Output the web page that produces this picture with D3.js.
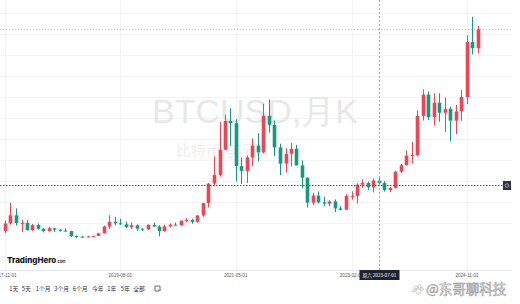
<!DOCTYPE html>
<html>
<head>
<meta charset="utf-8">
<script src="https://cdn.jsdelivr.net/npm/d3@7"></script>
<style>
html, body { margin: 0; padding: 0; background: #fff; }
svg { display: block; }
</style>
</head>
<body>
<script>
// monthly BTCUSD candles, 2017-11 .. 2025-01
const months = d3.timeMonth.range(new Date(2017, 10, 1), new Date(2025, 1, 1));

const opens = [6440, 10000, 13900, 10200, 10300, 6900, 9240, 7500, 6400, 7730, 7030, 6630, 6370, 4040,
  3740, 3460, 3850, 4100, 5320, 8570, 10820, 10080, 9600, 8300, 9150, 7550,
  7190, 9350, 8540, 6410, 8630, 9450, 9140, 11350, 11660, 10780, 13800, 19700,
  28990, 33110, 45140, 58790, 57750, 37300, 35040, 41460, 47100, 43820, 61300, 56950,
  46220, 38480, 43190, 45540, 37640, 31800, 19930, 23290, 20050, 19430, 20490, 17170,
  16540, 23140, 23150, 28480, 29270, 27220, 30480, 29230, 25940, 26970, 34650, 37720,
  42280, 42580, 61200, 71330, 60670, 67500, 62700, 64600, 58950, 63330, 70200, 96400,
  93400];
const highs = [11400, 19800, 17200, 11800, 11700, 9800, 9990, 7780, 8500, 7770, 7400, 7680, 6600, 4310,
  4100, 4200, 4140, 5600, 9000, 13880, 13200, 12300, 10950, 10540, 9510, 7750,
  9590, 10500, 9190, 9460, 10070, 10400, 11450, 12470, 12080, 14100, 19900, 29300,
  41950, 58350, 61800, 64850, 59600, 41300, 42400, 50500, 52920, 67000, 69000, 59100,
  47990, 45800, 48240, 47440, 40000, 31980, 24670, 25200, 22800, 21080, 21480, 18390,
  23950, 25250, 29200, 31000, 29820, 31430, 31800, 30200, 27500, 35200, 38400, 44700,
  48970, 63900, 73780, 72800, 71950, 71980, 70000, 65600, 66500, 73600, 99650, 108350,
  104000];
const lows = [5500, 9400, 9000, 6000, 6600, 6450, 7050, 5750, 6100, 5880, 6100, 6200, 3550, 3150,
  3350, 3400, 3700, 4060, 5300, 7450, 9100, 9350, 7710, 7300, 6550, 6430,
  6850, 8450, 3850, 6150, 8100, 8900, 8980, 10520, 9880, 10380, 13200, 17600,
  28130, 32300, 45000, 47000, 30000, 28800, 29300, 37330, 39600, 43280, 53250, 42000,
  32950, 34300, 37150, 37700, 26700, 17600, 18800, 19550, 18150, 18200, 15480, 16260,
  16500, 21400, 19550, 26940, 25810, 24800, 28860, 25170, 24900, 26560, 34100, 37650,
  38550, 41880, 59000, 59200, 56550, 58400, 53500, 49000, 52550, 58900, 66800, 90500,
  91000];
const closes = [10000, 13900, 10200, 10300, 6900, 9240, 7500, 6400, 7730, 7030, 6630, 6370, 4040, 3740,
  3460, 3850, 4100, 5320, 8570, 10820, 10080, 9600, 8300, 9150, 7550, 7190,
  9350, 8540, 6410, 8630, 9450, 9140, 11350, 11660, 10780, 13800, 19700, 28990,
  33110, 45140, 58790, 57750, 37300, 35040, 41460, 47100, 43820, 61300, 56950, 46220,
  38480, 43190, 45540, 37640, 31800, 19930, 23290, 20050, 19430, 20490, 17170, 16540,
  23140, 23150, 28480, 29270, 27220, 30480, 29230, 25940, 26970, 34650, 37720, 42280,
  42580, 61200, 71330, 60670, 67500, 62700, 64600, 58950, 63330, 70200, 96400, 93400,
  102400];

const xTickLabels = ['2017-11-01', '2019-08-01', '2021-05-01', '2023-02-01', '2024-11-01'];
const gridPrices = [10000, 20000, 30000, 40000, 50000, 60000, 70000, 80000, 90000, 100000, 110000];
const rangeButtons = ['1天', '5天', '1个月', '3个月', '6个月', '今年', '1年', '5年', '全部'];
const crosshairDate = '2023-07-01';
const crosshairPrice = 28300;

const W = 520, H = 304;
const plotRight = 512, plotBottom = 270;
const upColor = '#ec4656', downColor = '#16997f';

const parse = d3.timeParse('%Y-%m-%d');

const data = months.map((m, i) => ({
  date: m, open: opens[i], high: highs[i], low: lows[i], close: closes[i]
}));

const x = d3.scaleTime()
  .domain([months[0], months[months.length - 1]])
  .range([5, 478]);
const y = d3.scaleLinear().domain([0, 110000]).range([244.5, 13.4]);

const svg = d3.select('body').append('svg')
  .attr('width', W).attr('height', H)
  .style('font-family', '"Liberation Sans", Arial, sans-serif');

svg.append('defs').append('clipPath').attr('id', 'plot')
  .append('rect').attr('x', 0).attr('y', 0).attr('width', plotRight).attr('height', plotBottom);

const plot = svg.append('g').attr('clip-path', 'url(#plot)');

// grid
plot.append('g').selectAll('line').data(gridPrices).join('line')
  .attr('x1', 0).attr('x2', plotRight)
  .attr('y1', d => Math.round(y(d)) + 0.5).attr('y2', d => Math.round(y(d)) + 0.5)
  .attr('stroke', '#f2f3f6');
plot.append('g').selectAll('line').data(xTickLabels).join('line')
  .attr('x1', d => Math.round(x(parse(d))) + 0.5).attr('x2', d => Math.round(x(parse(d))) + 0.5)
  .attr('y1', 0).attr('y2', plotBottom)
  .attr('stroke', '#f2f3f6');

// watermark
plot.append('text')
  .attr('x', 152).attr('y', 123)
  .attr('font-size', 34)
  .attr('fill', '#e8e8e8')
  .text('BTCUSD,月K');
plot.append('text')
  .attr('x', 176).attr('y', 156)
  .attr('font-size', 15)
  .attr('font-family', '"Noto Sans CJK SC", sans-serif')
  .attr('fill', '#eeeeee')
  .text('比特币/美元');

// last price line
plot.append('line')
  .attr('x1', 0).attr('x2', plotRight)
  .attr('y1', Math.round(y(closes[closes.length - 1])) + 0.5)
  .attr('y2', Math.round(y(closes[closes.length - 1])) + 0.5)
  .attr('stroke', '#f4a6ad').attr('stroke-dasharray', '1,2');

// candles
const bw = 3.6;
const candles = plot.append('g').selectAll('g').data(data).join('g');
candles.append('line')
  .attr('x1', d => Math.round(x(d.date)) + 0.5).attr('x2', d => Math.round(x(d.date)) + 0.5)
  .attr('y1', d => y(d.high)).attr('y2', d => y(d.low))
  .attr('stroke', d => d.close >= d.open ? upColor : downColor)
  .attr('stroke-width', 1);
candles.append('rect')
  .attr('x', d => Math.round(x(d.date)) + 0.5 - bw / 2)
  .attr('y', d => y(Math.max(d.open, d.close)))
  .attr('width', bw)
  .attr('height', d => Math.max(1, Math.abs(y(d.open) - y(d.close))))
  .attr('fill', d => d.close >= d.open ? upColor : downColor);

// crosshair
const cx = Math.round(x(parse(crosshairDate))) + 0.5;
const cy = Math.round(y(crosshairPrice)) + 0.5;
plot.append('line')
  .attr('x1', cx).attr('x2', cx).attr('y1', 0).attr('y2', plotBottom)
  .attr('stroke', '#a6abb5').attr('stroke-dasharray', '2,2');
plot.append('line')
  .attr('x1', 0).attr('x2', 503).attr('y1', cy).attr('y2', cy)
  .attr('stroke', '#555').attr('stroke-dasharray', '1.5,1.5');
svg.append('rect')
  .attr('x', 503).attr('y', cy - 4.5).attr('width', 8).attr('height', 9)
  .attr('fill', '#2f3340');
svg.append('circle')
  .attr('cx', 507).attr('cy', cy).attr('r', 1.8)
  .attr('fill', 'none').attr('stroke', '#cfd2d8').attr('stroke-width', 0.7);

// logo
const logo = svg.append('text').attr('x', 7).attr('y', 263)
  .attr('font-family', 'Inter, "Open Sans", sans-serif')
  .attr('font-weight', 800).attr('fill', '#131722');
logo.append('tspan').attr('font-size', 8).text('TradingHero');
logo.append('tspan').attr('font-size', 3.8).attr('font-weight', 600).text('.com');

// time axis
svg.append('line')
  .attr('x1', 0).attr('x2', plotRight).attr('y1', plotBottom + 0.5).attr('y2', plotBottom + 0.5)
  .attr('stroke', '#e6e8ec');
svg.append('g').selectAll('text').data(xTickLabels).join('text')
  .attr('x', d => x(parse(d)))
  .attr('y', 277)
  .attr('text-anchor', 'middle')
  .attr('font-size', 4.6)
  .attr('fill', '#555')
  .text(d => d);

// crosshair date label
svg.append('rect')
  .attr('x', cx - 20).attr('y', 270).attr('width', 40).attr('height', 10)
  .attr('fill', '#1f2330');
svg.append('text')
  .attr('x', cx).attr('y', 277)
  .attr('text-anchor', 'middle')
  .attr('font-size', 4.6)
  .attr('font-family', '"Noto Sans CJK SC", sans-serif')
  .attr('fill', '#fff')
  .text('周六 ' + crosshairDate);

// range buttons
const btnX = [9.3, 21.7, 35.7, 54.3, 72.7, 92, 107.3, 120.7, 133.3];
svg.append('g').selectAll('text').data(rangeButtons).join('text')
  .attr('x', (d, i) => btnX[i])
  .attr('y', 291)
  .attr('font-size', 5.8)
  .attr('font-family', '"Noto Sans CJK SC", sans-serif')
  .attr('fill', '#2a2e39')
  .text(d => d);
const icon = svg.append('g').attr('transform', 'translate(154,285)')
  .attr('fill', 'none').attr('stroke', '#2a2e39').attr('stroke-width', 0.7);
icon.append('path').attr('d', 'M1,1 H6 V5 M1,1 V6 H5');
icon.append('path').attr('d', 'M4,4.5 L5.5,6 L7,4.5');

// source watermark
const wm = svg.append('g').attr('transform', 'translate(413,293.5)');
wm.selectAll('circle').data([[3, -6, 1.6], [6.5, -7, 1.6], [9, -4.5, 1.4], [1, -3, 1.4], [5.5, -2, 2.6]]).join('circle')
  .attr('cx', d => d[0]).attr('cy', d => d[1]).attr('r', d => d[2])
  .attr('fill', '#fff').attr('stroke', '#aaa').attr('stroke-width', 0.6);
wm.append('text')
  .attr('x', 13).attr('y', 0)
  .attr('font-size', 13.5)
  .attr('font-family', '"Noto Sans CJK SC", sans-serif')
  .attr('fill', '#fff').attr('stroke', '#9a9a9a').attr('stroke-width', 0.6)
  .text('@东哥聊科技');
</script>
</body>
</html>
